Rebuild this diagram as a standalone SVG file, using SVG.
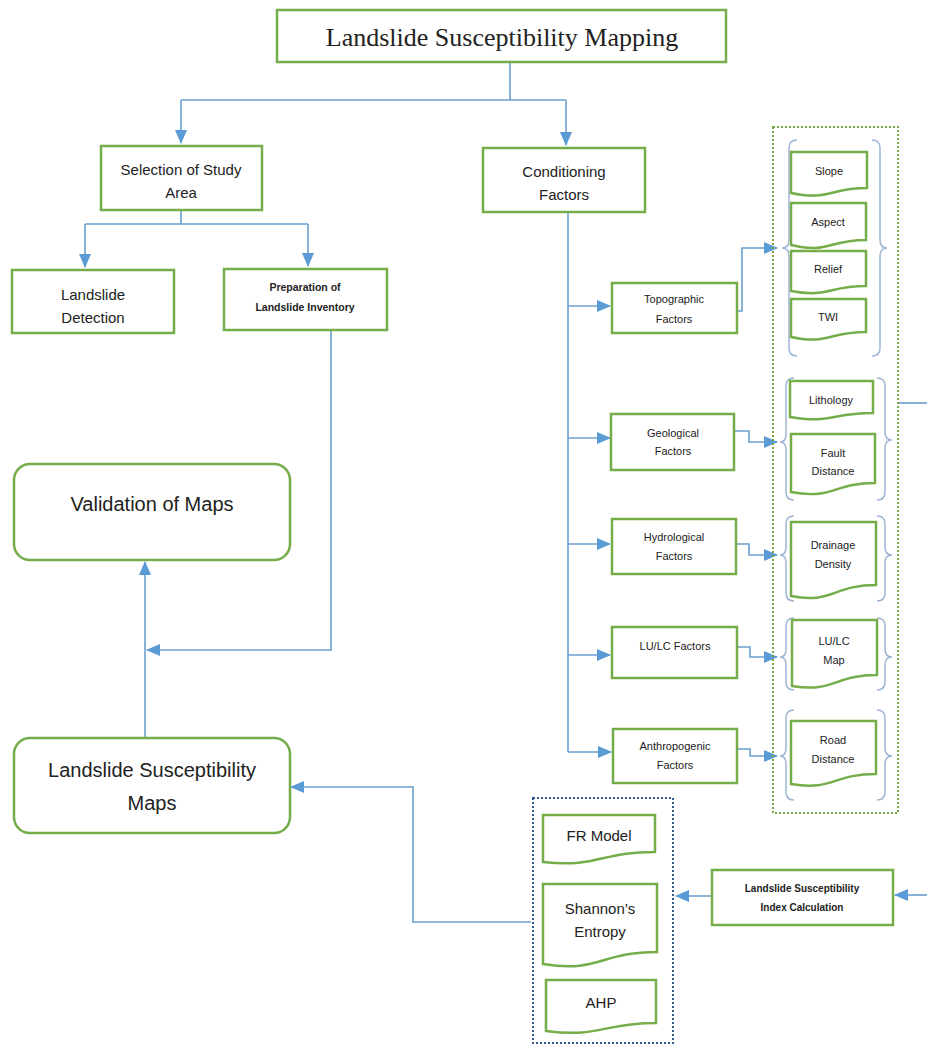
<svg xmlns="http://www.w3.org/2000/svg" width="927" height="1046" viewBox="0 0 927 1046">
<style>
.box{fill:#fff;stroke:#74ad4a;stroke-width:2.5}
.doc{fill:#fff;stroke:#74ad4a;stroke-width:2.5}
.c{fill:none;stroke:#6a9fd0;stroke-width:1.6}
.br{fill:none;stroke:#9fb6d3;stroke-width:1.5}
.t{font-family:"Liberation Sans",Arial,sans-serif;fill:#222;text-anchor:middle}
.b{font-weight:bold}
</style>
<defs>
<marker id="ah" markerUnits="userSpaceOnUse" markerWidth="14" markerHeight="14" viewBox="0 0 14 14" refX="13" refY="7" orient="auto">
<path d="M0,1 L14,7 L0,13 Z" fill="#5b9bd5"/>
</marker>
</defs>
<rect width="927" height="1046" fill="#fff"/>

<g id="connectors">
<path class="c" d="M510,62 V100 M181,100 H566"/>
<path class="c" d="M181,100 V143" marker-end="url(#ah)"/>
<path class="c" d="M566,100 V145" marker-end="url(#ah)"/>
<path class="c" d="M181,210 V224 M85,224 H308"/>
<path class="c" d="M85,224 V267" marker-end="url(#ah)"/>
<path class="c" d="M308,224 V266" marker-end="url(#ah)"/>
<path class="c" d="M331,330 V650 H147" marker-end="url(#ah)"/>
<path class="c" d="M145,737 V562" marker-end="url(#ah)"/>
<path class="c" d="M531,922 H413 V787 H291" marker-end="url(#ah)"/>
<path class="c" d="M568,212 V752"/>
<path class="c" d="M568,306 H610" marker-end="url(#ah)"/>
<path class="c" d="M568,438 H610" marker-end="url(#ah)"/>
<path class="c" d="M568,544 H610" marker-end="url(#ah)"/>
<path class="c" d="M568,655 H610" marker-end="url(#ah)"/>
<path class="c" d="M568,752 H611" marker-end="url(#ah)"/>
<path class="c" d="M737,311 H742 V248 H777" marker-end="url(#ah)"/>
<path class="c" d="M734,431 H749 V442 H777" marker-end="url(#ah)"/>
<path class="c" d="M736,544 H749 V555 H777" marker-end="url(#ah)"/>
<path class="c" d="M737,647 H750 V657 H777" marker-end="url(#ah)"/>
<path class="c" d="M737,749 H750 V756 H777" marker-end="url(#ah)"/>
<path class="c" d="M898,403 H927"/>
<path class="c" d="M927,895 H895" marker-end="url(#ah)"/>
<path class="c" d="M712,896 H676" marker-end="url(#ah)"/>
</g>

<g id="title">
<rect class="box" x="277" y="10" width="449" height="52"/>
<text class="t" x="502" y="46" style="font-family:'Liberation Serif','Times New Roman',serif;font-size:26px">Landslide Susceptibility Mapping</text>
</g>

<g id="selection">
<rect class="box" x="101" y="146" width="161" height="64"/>
<text class="t" x="181" y="175" font-size="15">Selection of Study</text>
<text class="t" x="181" y="198" font-size="15">Area</text>
</g>

<g id="conditioning">
<rect class="box" x="483" y="148" width="162" height="64"/>
<text class="t" x="564" y="177" font-size="15">Conditioning</text>
<text class="t" x="564" y="200" font-size="15">Factors</text>
</g>

<g id="detection">
<rect class="box" x="12" y="270" width="162" height="63"/>
<text class="t" x="93" y="300" font-size="15">Landslide</text>
<text class="t" x="93" y="323" font-size="15">Detection</text>
</g>

<g id="inventory">
<rect class="box" x="224" y="269" width="163" height="61"/>
<text class="t b" x="305" y="291" font-size="10.5">Preparation of</text>
<text class="t b" x="305" y="311" font-size="10.5">Landslide Inventory</text>
</g>

<g id="validation">
<rect class="box" x="14" y="464" width="276" height="96" rx="16"/>
<text class="t" x="152" y="511" font-size="20">Validation of Maps</text>
</g>

<g id="lsm">
<rect class="box" x="14" y="738" width="276" height="95" rx="16"/>
<text class="t" x="152" y="777" font-size="20">Landslide Susceptibility</text>
<text class="t" x="152" y="810" font-size="20">Maps</text>
</g>

<g id="topographic">
<rect class="box" x="612" y="283" width="125" height="50"/>
<text class="t" x="674" y="303" font-size="11">Topographic</text>
<text class="t" x="674" y="323" font-size="11">Factors</text>
</g>
<g id="geological">
<rect class="box" x="611" y="414" width="123" height="56"/>
<text class="t" x="673" y="437" font-size="11">Geological</text>
<text class="t" x="673" y="455" font-size="11">Factors</text>
</g>
<g id="hydrological">
<rect class="box" x="612" y="519" width="124" height="55"/>
<text class="t" x="674" y="541" font-size="11">Hydrological</text>
<text class="t" x="674" y="560" font-size="11">Factors</text>
</g>
<g id="lulc">
<rect class="box" x="612" y="627" width="125" height="51"/>
<text class="t" x="675" y="650" font-size="11">LU/LC Factors</text>
</g>
<g id="anthropogenic">
<rect class="box" x="613" y="729" width="124" height="54"/>
<text class="t" x="675" y="750" font-size="11">Anthropogenic</text>
<text class="t" x="675" y="769" font-size="11">Factors</text>
</g>

<g id="factor-group">
<rect x="773" y="127" width="125" height="686" fill="none" stroke="#76a844" stroke-width="2" stroke-dasharray="2,2"/>
<path class="br" d="M797,140 Q789,140 789,148 V240 Q789,248 782,248 Q789,248 789,256 V348 Q789,356 797,356"/>
<path class="br" d="M872,140 Q880,140 880,148 V240 Q880,248 887,248 Q880,248 880,256 V348 Q880,356 872,356"/>
<path class="br" d="M794,378 Q786,378 786,386 V434 Q786,442 780,442 Q786,442 786,450 V492 Q786,500 794,500"/>
<path class="br" d="M877,378 Q885,378 885,386 V432 Q885,440 892,440 Q885,440 885,448 V492 Q885,500 877,500"/>
<path class="br" d="M794,516 Q786,516 786,524 V547 Q786,555 780,555 Q786,555 786,563 V593 Q786,601 794,601"/>
<path class="br" d="M877,516 Q885,516 885,524 V547 Q885,555 892,555 Q885,555 885,563 V593 Q885,601 877,601"/>
<path class="br" d="M794,618 Q786,618 786,626 V649 Q786,657 780,657 Q786,657 786,665 V682 Q786,690 794,690"/>
<path class="br" d="M877,618 Q885,618 885,626 V649 Q885,657 892,657 Q885,657 885,665 V682 Q885,690 877,690"/>
<path class="br" d="M794,710 Q786,710 786,718 V748 Q786,756 780,756 Q786,756 786,764 V792 Q786,800 794,800"/>
<path class="br" d="M877,710 Q885,710 885,718 V748 Q885,756 892,756 Q885,756 885,764 V792 Q885,800 877,800"/>
</g>

<g id="slope">
<path class="doc" d="M791,152 H867 V188 C829,188 829,201 791,193 Z"/>
<text class="t" x="829" y="175" font-size="11">Slope</text>
</g>
<g id="aspect">
<path class="doc" d="M791,203 H866 V240 C828,240 828,254 791,245 Z"/>
<text class="t" x="828" y="226" font-size="11">Aspect</text>
</g>
<g id="relief">
<path class="doc" d="M791,251 H866 V286 C828,286 828,298 791,291 Z"/>
<text class="t" x="828" y="273" font-size="11">Relief</text>
</g>
<g id="twi">
<path class="doc" d="M791,299 H866 V332 C828,332 828,345 791,337 Z"/>
<text class="t" x="828" y="321" font-size="11">TWI</text>
</g>
<g id="lithology">
<path class="doc" d="M790,381 H873 V413 C831,413 831,424 790,417 Z"/>
<text class="t" x="831" y="404" font-size="11">Lithology</text>
</g>
<g id="fault">
<path class="doc" d="M791,434 H875 V483 C833,483 833,500 791,492 Z"/>
<text class="t" x="833" y="457" font-size="11">Fault</text>
<text class="t" x="833" y="475" font-size="11">Distance</text>
</g>
<g id="drainage">
<path class="doc" d="M791,522 H876 V585 C833,585 833,604 791,596 Z"/>
<text class="t" x="833" y="549" font-size="11">Drainage</text>
<text class="t" x="833" y="568" font-size="11">Density</text>
</g>
<g id="lulcmap">
<path class="doc" d="M792,620 H877 V675 C834,675 834,693 792,686 Z"/>
<text class="t" x="834" y="645" font-size="11">LU/LC</text>
<text class="t" x="834" y="664" font-size="11">Map</text>
</g>
<g id="road">
<path class="doc" d="M791,721 H876 V774 C833,774 833,791 791,784 Z"/>
<text class="t" x="833" y="744" font-size="11">Road</text>
<text class="t" x="833" y="763" font-size="11">Distance</text>
</g>

<g id="lsi">
<rect class="box" x="712" y="870" width="181" height="55"/>
<text class="t b" x="802" y="892" font-size="10">Landslide Susceptibility</text>
<text class="t b" x="802" y="911" font-size="10">Index Calculation</text>
</g>

<g id="models">
<rect x="533" y="798" width="140" height="245" fill="none" stroke="#2f5a8a" stroke-width="2" stroke-dasharray="2,2"/>
</g>
<g id="fr">
<path class="doc" d="M543,815 H655 V852 C599,852 599,868 543,862 Z"/>
<text class="t" x="599" y="841" font-size="15">FR Model</text>
</g>
<g id="shannon">
<path class="doc" d="M543,884 H657 V952 C600,952 600,973 543,964 Z"/>
<text class="t" x="600" y="914" font-size="15">Shannon’s</text>
<text class="t" x="600" y="937" font-size="15">Entropy</text>
</g>
<g id="ahp">
<path class="doc" d="M546,980 H656 V1023 C601,1023 601,1038 546,1031 Z"/>
<text class="t" x="601" y="1008" font-size="15">AHP</text>
</g>
</svg>
